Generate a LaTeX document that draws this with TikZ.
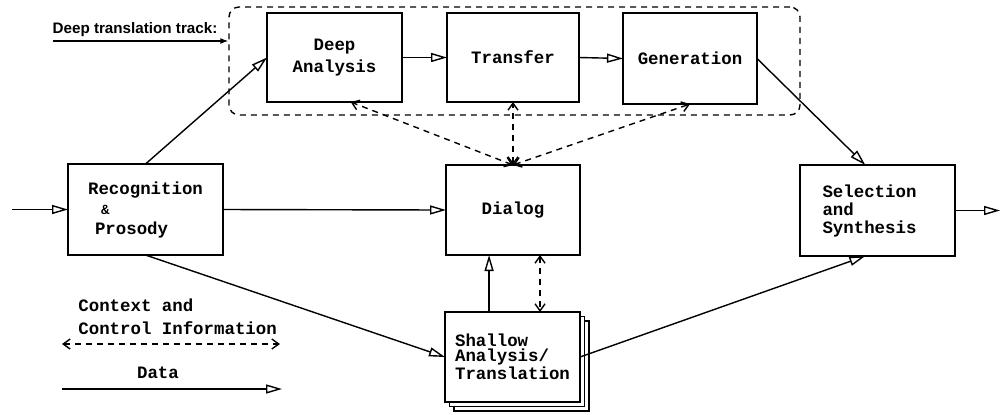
\documentclass[tikz,border=0pt]{standalone}
\usepackage{fontspec}
\setmainfont{Liberation Sans}
\setmonofont{Liberation Mono}
\usetikzlibrary{arrows.meta,shadows}

\newcommand\modfont{\ttfamily\bfseries\fontsize{8.7}{11}\selectfont}

\begin{document}
\begin{tikzpicture}[x=0.5pt,y=-0.5pt]

  % Set up styles for the modules and the connectors
  \tikzset{
      module/.style={rectangle, draw, line width=0.8pt, fill=white, inner sep=0pt, outer sep=0pt, font=\modfont},
      trackbox/.style={draw, line width=0.7pt, dash pattern=on 3pt off 2.5pt, rounded corners=5pt, inner sep=0pt},
      data/.style={draw, line width=0.7pt, -{Triangle[open, length=8pt, width=4.5pt]}},
      ctl/.style={draw, line width=0.7pt, dash pattern=on 3pt off 2.5pt,
                  {Straight Barb[length=3.5pt, width=5pt]}-{Straight Barb[length=3.5pt, width=5pt]}},
      legend/.style={font=\modfont, align=left, inner sep=0pt}
  }

  \useasboundingbox (0,0) rectangle (1004,414);

  % Deep translation track
  \node[trackbox, minimum width=285.5pt, minimum height=54pt] (track) at (514.5,61) {};
  \node[font=\bfseries\fontsize{7.6}{9}\selectfont, inner sep=0pt] (tracklbl) at (135,30) {Deep translation track:};
  \coordinate (trackin) at (53,41);
  \draw[line width=0.6pt, -{Latex[length=4pt, width=3pt]}] (trackin) -- (trackin -| track.west);

  \node[module, minimum width=67.5pt, minimum height=44.5pt, align=center] (ana) at (334.5,57.5) {Deep\\Analysis};
  \node[module, minimum width=66pt, minimum height=44.5pt] (trans) at (513,57.5) {Transfer};
  \node[module, minimum width=67pt, minimum height=45.5pt] (gen) at (690,58.5) {Generation};

  % Modules on the main line
  \node[module, minimum width=77.5pt, minimum height=45.5pt, align=left] (rec) at (145.5,209.5)
      {Recognition\\[-1pt]\hspace*{0.75em}{\scriptsize\&}\\[-1pt]\hspace*{0.4em}Prosody};
  \node[module, minimum width=67pt, minimum height=45pt] (dia) at (513,210) {Dialog};
  \node[module, minimum width=77.5pt, minimum height=45.5pt, text width=55pt, align=left,
        font=\ttfamily\bfseries\fontsize{8.7}{9}\selectfont] (sel) at (877.5,210.5)
      {Selection\\and\\Synthesis};
  \node[module, minimum width=67.5pt, minimum height=45pt, align=left,
        font=\ttfamily\bfseries\fontsize{8.7}{7.2}\selectfont,
        double copy shadow={shadow xshift=2.25pt, shadow yshift=-2.25pt, draw=black, fill=white, line width=0.7pt}]
      (sha) at (512.5,357) {Shallow\\Analysis/\\Translation};

  % Data flow
  \coordinate (in) at (12,209.5);
  \coordinate (out) at (1000,210.5);
  \draw[data] (in) -- (rec.west);
  \draw[data] (rec.east) -- (dia.west);
  \draw[data] (rec.north) -- (ana.west);
  \draw[data] (rec.south) -- (sha.west);
  \draw[data] (ana.east) -- (trans.west);
  \draw[data] (trans.east) -- (gen.west);
  \draw[data] (gen.east) -- (sel.105);
  \draw[data] (sha.east) -- (sel.-105);
  \draw[data] (sha.north -| dia.-118) -- (dia.-118);
  \draw[data] (sel.east) -- (out);

  % Context and control information
  \draw[ctl] (dia.north) -- (ana.-70);
  \draw[ctl] (dia.north) -- (trans.south);
  \draw[ctl] (dia.north) -- (gen.south);
  \draw[ctl] (dia.-59) -- (sha.north -| dia.-59);

  % Legend
  \node[legend, anchor=west, font=\ttfamily\bfseries\fontsize{8.7}{11.5}\selectfont] (ctllbl) at (78,316.5)
      {Context and\\Control Information};
  \node[legend] (datalbl) at (158,373) {Data};
  \coordinate (ctla) at (62,344);
  \coordinate (ctlb) at (280,344);
  \coordinate (dataa) at (62,389);
  \coordinate (datab) at (282,389);
  \draw[ctl] (ctla) -- (ctlb);
  \draw[data] (dataa) -- (datab);

\end{tikzpicture}
\end{document}
